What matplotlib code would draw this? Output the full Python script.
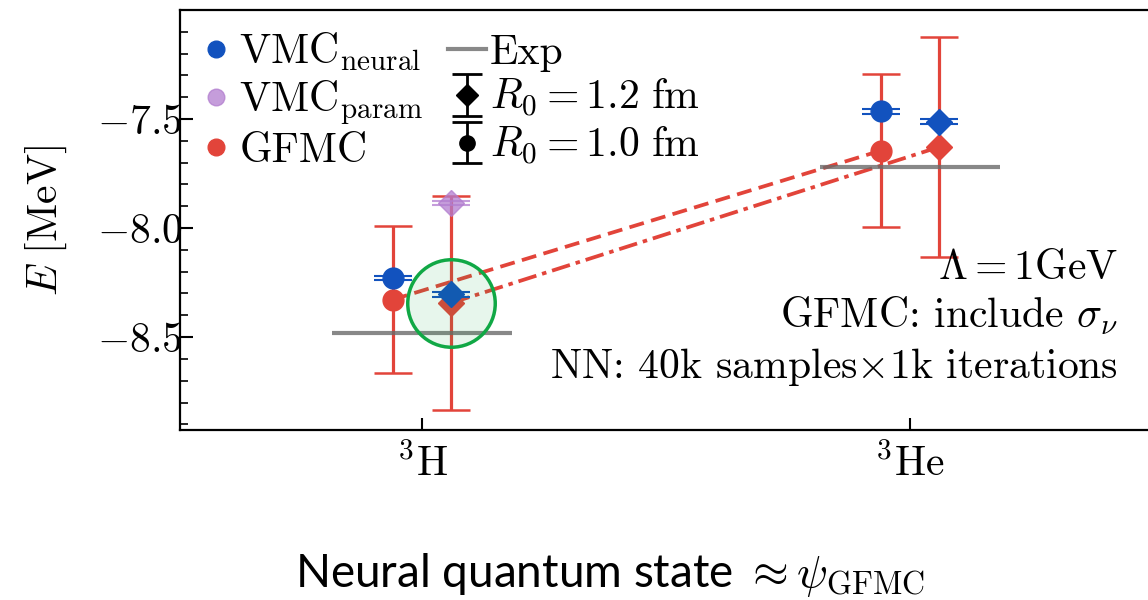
import numpy as np
import matplotlib
matplotlib.use("Agg")
import matplotlib.pyplot as plt
from matplotlib.lines import Line2D

plt.rcParams['font.family'] = 'serif'
plt.rcParams['font.serif'] = ['cmr10']
plt.rcParams['mathtext.fontset'] = 'cm'
plt.rcParams['axes.formatter.use_mathtext'] = True

# ---- data ----
nuclei = [r'$^3\mathrm{H}$', r'$^3\mathrm{He}$']
x_pos = np.array([0, 1])
offset = 0.06

gfmc_r10 = [-8.328, -7.645]
gfmc_r10_err = [0.338, 0.352]
gfmc_r12 = [-8.343, -7.628]
gfmc_r12_err = [0.492, 0.503]

vmc_neural_r10 = [-8.230, -7.465]
vmc_neural_r10_err = [0.010, 0.010]
vmc_neural_r12 = [-8.304, -7.513]
vmc_neural_r12_err = [0.011, 0.011]

vmc_param_r12 = [-7.885]
vmc_param_r12_err = [0.010]

exp_vals = [-8.482, -7.718]

c_blue = '#1252BE'
c_red = '#E2443A'
c_purple = '#B27DCF'
c_grey = '#6A6A6A'
c_green = '#10A845'

fig = plt.figure(figsize=(11.48, 6), dpi=100)
ax = fig.add_axes([180/1148, 170/600, 974/1148, 420/600])

xl = x_pos - offset
xr = x_pos + offset

# connecting GFMC lines
ax.plot(xl, gfmc_r10, ls=(0, (4, 2)), color=c_red, lw=2.7, zorder=2)
ax.plot(xr, gfmc_r12, ls=(0, (5, 1.6, 1.2, 1.6)), color=c_red, lw=2.7, zorder=2)

ekw = dict(capsize=13.5, elinewidth=2.3, capthick=1.8, zorder=3)
ax.errorbar(xl, gfmc_r10, yerr=gfmc_r10_err, fmt='o', ms=15, color=c_red, **ekw)
ax.errorbar(xr, gfmc_r12, yerr=gfmc_r12_err, fmt='D', ms=13, color=c_red, **ekw)

bkw = dict(capsize=13.5, elinewidth=1.5, capthick=1.5, zorder=4)
ax.errorbar(xl, vmc_neural_r10, yerr=vmc_neural_r10_err, fmt='o', ms=15, color=c_blue, **bkw)
ax.errorbar(xr, vmc_neural_r12, yerr=vmc_neural_r12_err, fmt='D', ms=13, color=c_blue, **bkw)
ax.errorbar(xr[:1], vmc_param_r12, yerr=vmc_param_r12_err, fmt='D', ms=13,
            color=c_purple, alpha=0.75, **bkw)

# experiment
for x, e in zip(x_pos, exp_vals):
    ax.hlines(e, x - 0.185, x + 0.185, color=c_grey, lw=3.0, alpha=0.8, zorder=5)

# highlight circle
ax.plot(xr[:1], [gfmc_r12[0]], 'o', ms=63, mfc=(0.1, 0.66, 0.27, 0.10),
        mec=c_green, mew=2.5, zorder=6)

# legend
h1 = Line2D([], [], ls='none', marker='o', ms=12, color=c_blue)
h2 = Line2D([], [], ls='none', marker='o', ms=12, color=c_purple, alpha=0.75)
h3 = Line2D([], [], ls='none', marker='o', ms=12, color=c_red)
h4 = Line2D([], [], color=c_grey, lw=3.0, alpha=0.8)
h5 = ax.errorbar([np.nan], [np.nan], yerr=[1], fmt='D', ms=11, color='k',
                 capsize=11, elinewidth=2, capthick=2)
h6 = ax.errorbar([np.nan], [np.nan], yerr=[1], fmt='o', ms=11, color='k',
                 capsize=11, elinewidth=2, capthick=2)
ax.legend([h1, h2, h3, h4, h5, h6],
          [r'VMC$_{\rm neural}$', r'VMC$_{\rm param}$', 'GFMC', 'Exp',
           r'$R_0 = 1.2\ \mathrm{fm}$', r'$R_0 = 1.0\ \mathrm{fm}$'],
          ncol=2, loc='upper left', bbox_to_anchor=(-0.012, 1.02), frameon=False,
          fontsize=30, handlelength=0.9, handletextpad=0.1, columnspacing=0.6,
          labelspacing=0.13, borderaxespad=0.3)

# annotations
ax.text(0.963, 0.386, r'$\Lambda = 1\mathrm{GeV}$', transform=ax.transAxes,
        ha='right', va='center', fontsize=30)
ax.text(0.963, 0.272, r'GFMC: include $\sigma_\nu$', transform=ax.transAxes,
        ha='right', va='center', fontsize=30)
ax.text(0.963, 0.150, r'NN: 40k samples$\times$1k iterations', transform=ax.transAxes,
        ha='right', va='center', fontsize=30)

ax.set_xlim(-0.496, 1.5)
ax.set_ylim(-8.926, -7.043)
ax.set_xticks(x_pos)
ax.set_xticklabels(nuclei, fontsize=30)
ax.set_yticks([-8.5, -8.0, -7.5])
ax.set_yticks(np.arange(-8.9, -7.0, 0.1), minor=True)
ax.tick_params(axis='both', direction='in', labelsize=30, width=1.5, length=9,
               top=False, right=False)
ax.tick_params(axis='x', pad=10)
ax.tick_params(axis='y', pad=-2)
ax.tick_params(axis='y', which='minor', direction='in', width=1.2, length=6)
ax.tick_params(axis='x', which='minor', bottom=False)
for s in ax.spines.values():
    s.set_linewidth(1.6)
ax.set_ylabel(r'$E\ [\mathrm{MeV}]$', fontsize=30, labelpad=20)

fig.text(610/1148, 1 - 575/600, r'Neural quantum state $\approx \psi_{\mathrm{GFMC}}$',
         family='Lato', fontsize=33, ha='center', va='center')

fig.savefig('out.png', dpi=100)
